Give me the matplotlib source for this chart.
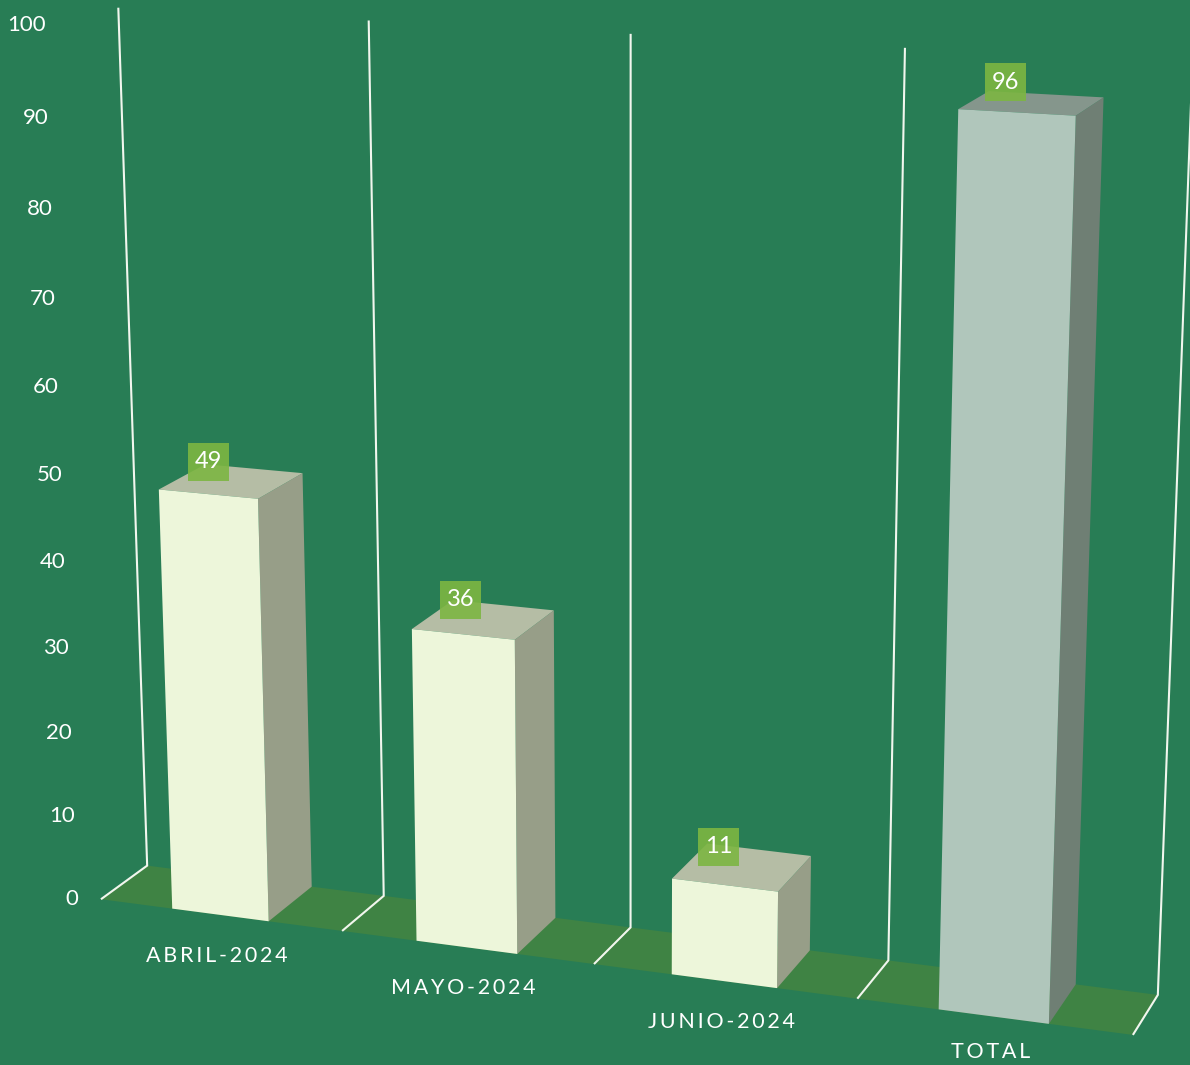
import numpy as np
import matplotlib
matplotlib.use("Agg")
import matplotlib.pyplot as plt
from matplotlib.patches import Polygon, Rectangle

categories = ["ABRIL-2024", "MAYO-2024", "JUNIO-2024", "TOTAL"]
values = [49, 36, 11, 96]
y_ticks = [0, 10, 20, 30, 40, 50, 60, 70, 80, 90, 100]

plt.rcParams["font.family"] = ["Lato", "DejaVu Sans"]

# camera of the 3d view: (category, value, depth) -> picture pixel
cam = np.array([
    [2.33867233e+02, -3.63457507e-01, 4.95922956e+01, 1.00966312e+02],
    [1.18926177e+01, -8.78178717e+00, -1.36193267e+01, 8.99238667e+02],
    [-2.12832645e-02, -5.77555432e-04, 2.31105596e-02, 1.00000000e+00],
])


def project(x, y, z):
    p = cam @ np.array([x, y, z, 1.0])
    return p[0] / p[2], p[1] / p[2]


bg = "#287D55"
fig = plt.figure(figsize=(11.9, 10.65), dpi=100, facecolor=bg)
ax = fig.add_axes([0, 0, 1, 1])
ax.set_xlim(0, 1190)
ax.set_ylim(1065, 0)
ax.axis("off")

# floor
ax.add_patch(Polygon([project(0, 0, 0), project(4, 0, 0), project(4, 0, 1), project(0, 0, 1)], color="#3F8344", lw=0))

# walls
for i in range(5):
    pts = [project(i, 0, 0), project(i, 0, 1), project(i, 100, 1)]
    ax.plot(*zip(*pts), color="#F2F6EE", lw=1.5, solid_joinstyle="miter", solid_capstyle="butt")

for i, val in enumerate(values):
    x0, x1 = i + 0.3, i + 0.7
    if categories[i] == "TOTAL":
        front, side, top = "#B0C6BB", "#6F7F74", "#85968C"
    else:
        front, side, top = "#EDF6DA", "#979E88", "#B5BDA5"
    ax.add_patch(Polygon([project(x1, 0, 0), project(x1, 0, 1), project(x1, val, 1), project(x1, val, 0)], color=side, lw=0))
    ax.add_patch(Polygon([project(x0, val, 0), project(x1, val, 0), project(x1, val, 1), project(x0, val, 1)], color=top, lw=0))
    ax.add_patch(Polygon([project(x0, 0, 0), project(x1, 0, 0), project(x1, val, 0), project(x0, val, 0)], color=front, lw=0))

    # value label sits on the top of the bar
    lx, ly = project(i + 0.41, val + 2, 0.5)
    ax.add_patch(Rectangle((lx - 20.5, ly - 19), 41, 38, fc="#7DB642", ec="none", alpha=0.9))
    ax.text(lx, ly, str(val), color="white", fontsize=17, ha="center", va="center")

    cx, cy = project(i + 0.5, 0, 0)
    ax.text(cx - 3, min(cy + 41, 1052), "\u2009".join(categories[i]), color="white", fontsize=15.5,
            ha="center", va="center")

for t in y_ticks:
    px, py = project(0, t, 0)
    ax.text(px - 23, py + t * 0.03, str(t), color="white", fontsize=16, ha="right", va="center")

fig.savefig("out.png", dpi=100, facecolor=bg)
